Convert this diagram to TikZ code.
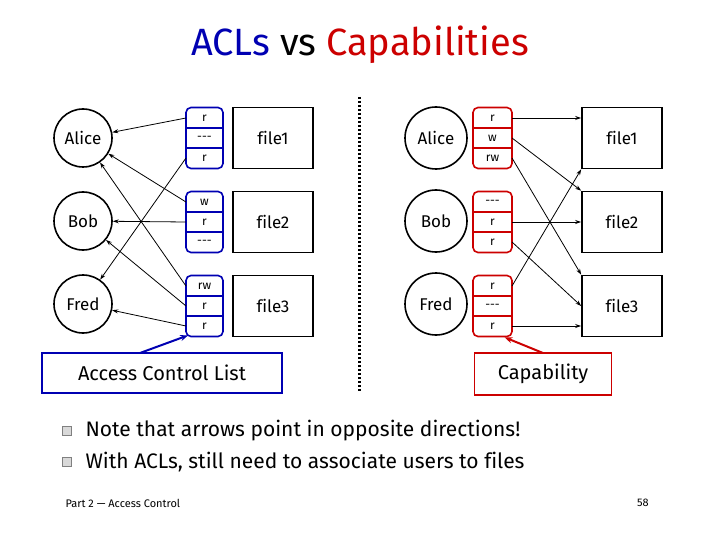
\documentclass[tikz,border=0pt]{standalone}
\usepackage{fontspec}
\setmainfont{Fira Sans}[Ligatures=NoCommon]
\usetikzlibrary{arrows.meta}
\newcommand{\dsh}{-{}-{}-}
\begin{document}
\begin{tikzpicture}[x=1pt,y=-1pt,
  user/.style={circle,draw,line width=1.6pt,minimum size=58pt,inner sep=0pt,font=\fontsize{17}{17}\selectfont},
  file/.style={draw,line width=1.6pt,minimum width=80pt,minimum height=61pt,font=\fontsize{17}{17}\selectfont},
  acl/.style={draw=blue!70!black,line width=1.6pt,rounded corners=5pt,minimum width=37pt,minimum height=61pt},
  capbox/.style={draw=red!80!black,line width=1.6pt,rounded corners=5pt,minimum width=39pt,minimum height=61pt},
  row/.style={font=\fontsize{12}{12}\selectfont,inner sep=0pt},
  arr/.style={-{Stealth[length=6pt,width=4pt]},line width=0.8pt}]
\useasboundingbox (0,0) rectangle (720,540);
\node at (360,45) {\fontsize{38}{38}\selectfont\textcolor{blue!70!black}{ACLs} vs \textcolor{red!80!black}{Capabilities}};
% left
\foreach \n/\t/\y in {la/Alice/138,lb/Bob/221,lf/Fred/304}{\node[user] (\n) at (83,\y) {\t};}
\foreach \i/\y in {1/138,2/222,3/306}{
  \node[file] (lfile\i) at (273,\y) {file\i};
  \node[acl] (acl\i) at (204.5,\y) {};
  \draw[blue!70!black,line width=1.6pt] (186,\y-10)--(223,\y-10) (186,\y+10)--(223,\y+10);
  \foreach \k/\d in {1/-20,2/0,3/20}{\coordinate (acl\i r\k) at (186,\y+\d);}
}
\foreach \i/\a/\b/\c in {1/r/\dsh/r,2/w/r/\dsh,3/rw/r/r}{
  \node[row] at ([yshift=20pt]acl\i.center) {\a};
  \node[row] at (acl\i.center) {\b};
  \node[row] at ([yshift=-20pt]acl\i.center) {\c};}
\draw[arr] (acl1r1) -- (la);
\draw[arr] (acl1r3) -- (lf);
\draw[arr] (acl2r1) -- (la);
\draw[arr] (acl2r2) -- (lb);
\draw[arr] (acl3r1) -- (la);
\draw[arr] (acl3r2) -- (lb);
\draw[arr] (acl3r3) -- (lf);
\node[draw=blue!70!black,line width=1.6pt,minimum width=240pt,minimum height=40pt,font=\fontsize{20}{20}\selectfont] (acllab) at (162,373) {Access Control List};
\coordinate (aclp) at (140,353);
\draw[blue!70!black,line width=2pt,-{Stealth[length=8pt,width=6pt]}] (aclp) -- ([xshift=3pt,yshift=2pt]acl3.south west);
% divider
\draw[line width=3pt,dash pattern=on 2pt off 2pt] (359,97) -- (359,392);
% right
\foreach \n/\t/\y in {ra/Alice/138,rb/Bob/221,rf/Fred/304}{\node[user,minimum size=62pt] (\n) at (436,\y) {\t};}
\foreach \i/\y in {1/138,2/222,3/306}{
  \node[file] (rfile\i) at (622,\y) {file\i};
  \node[capbox] (cap\i) at (492.5,\y) {};
  \draw[red!80!black,line width=1.6pt] (473,\y-10)--(512,\y-10) (473,\y+10)--(512,\y+10);
  \foreach \k/\d in {1/-20,2/0,3/20}{\coordinate (cap\i r\k) at (512,\y+\d);}
}
\foreach \i/\a/\b/\c in {1/r/w/rw,2/\dsh/r/r,3/r/\dsh/r}{
  \node[row] at ([yshift=20pt]cap\i.center) {\a};
  \node[row] at (cap\i.center) {\b};
  \node[row] at ([yshift=-20pt]cap\i.center) {\c};}
\draw[arr] (cap1r1) -- (rfile1.west|-cap1r1);
\draw[arr] (cap1r2) -- (rfile2.north west);
\draw[arr] (cap1r3) -- (rfile3.north west);
\draw[arr] (cap2r2) -- (rfile2.west|-cap2r2);
\draw[arr] (cap2r3) -- (rfile3.west);
\draw[arr] (cap3r1) -- (rfile1.south west);
\draw[arr] (cap3r3) -- (rfile3.west|-cap3r3);
\node[draw=red!80!black,line width=1.6pt,minimum width=137pt,minimum height=42pt,font=\fontsize{20}{20}\selectfont] (caplab) at (543,374) {Capability};
\coordinate (capp) at (543,353);
\draw[red!80!black,line width=2pt,-{Stealth[length=8pt,width=6pt]}] (capp) -- ([xshift=12pt]cap3.south);
% bullets
\foreach \y/\t [count=\j] in {431/Note that arrows point in opposite directions!,462/With ACLs{,} still need to associate users to files}{
  \node[draw=gray,fill=gray!30,minimum size=9pt,inner sep=0pt] (b\j) at (67,\y) {};
  \node[anchor=west,font=\fontsize{21}{21}\selectfont] (t\j) at (82,\y) {\t};}
\node[anchor=west,font=\fontsize{11}{11}\selectfont] (foot) at (62,503) {Part 2 --- Access Control};
\node[font=\fontsize{11}{11}\selectfont] (pg) at (643,503) {58};
\end{tikzpicture}
\end{document}
